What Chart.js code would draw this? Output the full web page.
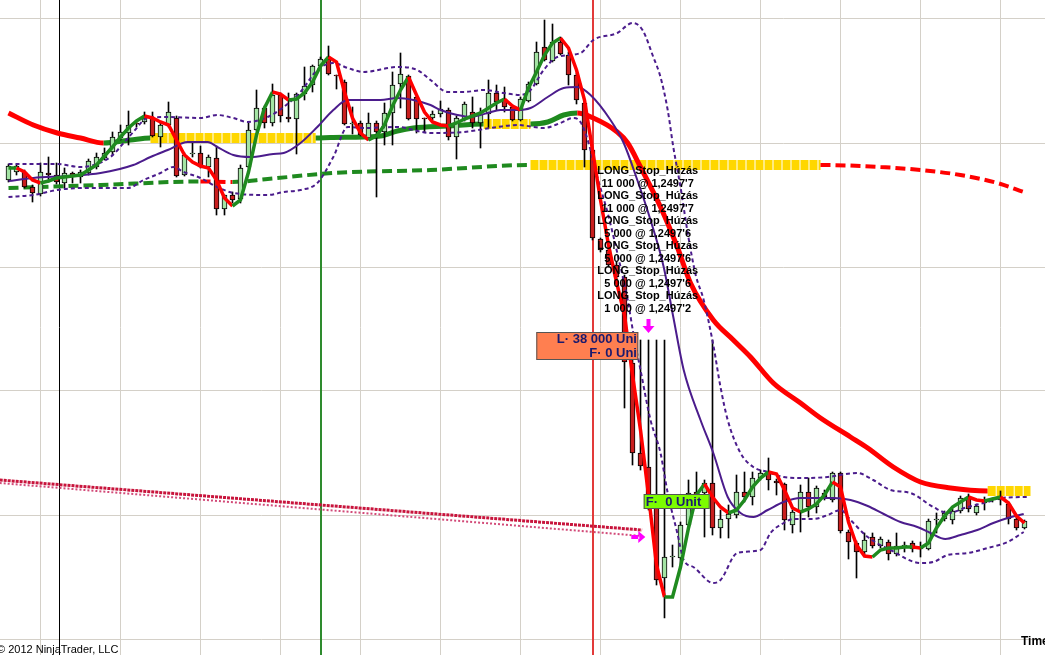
<!DOCTYPE html>
<html>
<head>
<meta charset="utf-8">
<title>NinjaTrader chart</title>
<script src="https://cdn.jsdelivr.net/npm/chart.js@4.4.0/dist/chart.umd.min.js"></script>
<style>
  html, body { margin: 0; padding: 0; background: #fff; overflow: hidden; }
  #wrap { position: relative; width: 1045px; height: 655px; }
</style>
</head>
<body>
<div id="wrap"><canvas id="chart"></canvas></div>
<script>
// price units are arbitrary chart points (higher = higher price)
const opens = [
  520, 528, 528, 513, 506, 527, 525, 517, 527, 523,
  527, 533, 542, 548, 562, 567, 577, 578, 582, 563,
  575, 582, 525, 546, 547, 533, 542, 491, 505, 501,
  533, 570, 592, 577, 605, 583, 581, 606, 615, 634,
  641, 625, 618, 576, 577, 562, 577, 568, 587, 616,
  624, 603, 582, 582, 586, 590, 563, 581, 588, 577,
  586, 607, 601, 593, 580, 599, 616, 653, 639, 658,
  645, 625, 597, 550, 461, 450, 435, 423, 337, 247,
  233, 193, 122, 143, 142, 175, 208, 207, 217, 172,
  181, 185, 208, 203, 222, 228, 219, 216, 175, 188,
  208, 193, 207, 200, 227, 168, 157, 148, 163, 154,
  158, 146, 154, 157, 152, 151, 180, 181, 180, 189,
  203, 187, 197, 200, 200, 196, 181, 172,
];
const highs = [
  536, 535, 530, 515, 537, 543, 537, 532, 528, 530,
  541, 547, 552, 568, 575, 589, 578, 588, 588, 578,
  598, 584, 547, 558, 554, 545, 554, 505, 508, 535,
  577, 610, 594, 616, 607, 607, 607, 633, 635, 643,
  654, 625, 620, 593, 579, 587, 579, 597, 628, 647,
  625, 604, 582, 589, 599, 592, 584, 598, 603, 592,
  620, 615, 613, 595, 603, 618, 658, 680, 676, 663,
  648, 627, 600, 552, 462, 452, 438, 425, 340, 360,
  360, 360, 360, 155, 178, 220, 228, 220, 360, 190,
  195, 225, 228, 228, 230, 242, 221, 217, 190, 215,
  222, 214, 210, 228, 228, 170, 159, 167, 167, 163,
  160, 167, 158, 159, 158, 181, 187, 189, 191, 204,
  206, 196, 203, 202, 209, 198, 183, 180,
];
const lows = [
  518, 525, 512, 498, 504, 518, 516, 512, 517, 517,
  525, 531, 540, 545, 560, 555, 573, 576, 563, 553,
  573, 523, 524, 543, 532, 523, 485, 485, 497, 497,
  532, 569, 572, 574, 578, 578, 546, 600, 608, 633,
  625, 611, 575, 566, 564, 560, 503, 555, 555, 592,
  580, 567, 568, 580, 583, 560, 541, 579, 572, 552,
  572, 590, 588, 579, 579, 598, 615, 639, 638, 645,
  615, 596, 533, 460, 448, 433, 421, 292, 235, 230,
  190, 115, 82, 133, 132, 172, 200, 163, 165, 162,
  162, 182, 198, 195, 220, 210, 205, 170, 167, 168,
  183, 187, 200, 198, 167, 141, 122, 145, 152, 152,
  140, 144, 148, 148, 143, 150, 167, 179, 176, 187,
  188, 185, 190, 198, 195, 176, 170, 171,
];
const closes = [
  534, 534, 513, 507, 528, 525, 518, 527, 524, 528,
  539, 543, 547, 563, 568, 575, 576, 582, 564, 575,
  588, 524, 545, 547, 533, 543, 491, 505, 500, 532,
  570, 592, 577, 605, 584, 581, 606, 614, 634, 641,
  626, 624, 576, 577, 565, 577, 568, 587, 615, 626,
  581, 581, 581, 586, 591, 563, 582, 596, 577, 586,
  607, 598, 593, 580, 601, 616, 648, 640, 658, 646,
  625, 600, 550, 462, 450, 435, 423, 338, 247, 234,
  193, 120, 143, 144, 175, 207, 205, 217, 172, 181,
  186, 208, 203, 222, 227, 220, 217, 180, 188, 208,
  193, 212, 203, 227, 169, 158, 148, 160, 154, 161,
  146, 154, 155, 151, 151, 179, 181, 187, 189, 202,
  191, 194, 199, 201, 203, 181, 172, 179,
];

// fast moving average, one value per bar
const fastMA = [
  532, 532, 528, 520, 517, 519, 522, 523, 524, 525,
  530, 535, 544, 553, 563, 572, 579, 584, 582, 578,
  575, 560, 545, 538, 534, 532, 520, 502, 494, 500,
  528, 565, 592, 608, 606, 600, 601, 607, 618, 634,
  643, 638, 608, 582, 567, 560, 564, 575, 594, 610,
  623, 605, 588, 578, 575, 574, 577, 581, 584, 587,
  592, 597, 601, 594, 590, 612, 628, 645, 657, 662,
  652, 630, 600, 550, 500, 455, 418, 385, 325, 270,
  205, 135, 103, 103, 133, 172, 205, 216, 203, 193,
  187, 190, 200, 213, 222, 228, 226, 210, 192, 188,
  191, 196, 205, 218, 213, 178, 155, 144, 143, 150,
  152, 152, 153, 153, 152, 157, 172, 184, 193, 198,
  203, 200, 199, 201, 203, 197, 184, 177,
];

// slow moving average (bar position, value)
const slowX = [0, 3.1, 6.1, 9, 11.9, 15.25, 17.75, 38.4, 40.25, 44.4, 46.5, 48.6, 50.6, 54.9, 59.4,
  65.25, 67.4, 69.4, 71.1, 73.1, 76.1, 77.4, 79, 81.5, 83.6, 85.25, 88.1, 90.6, 92.75, 95.6, 99,
  101.5, 105.25, 107.4, 110.6, 114, 117.75, 122.4, 127.75];
const slowY = [587, 575, 567, 562, 557, 560, 562, 562, 562.5, 563, 564, 569, 572, 574, 576,
  576, 578, 585, 587, 582, 568, 557, 533, 493, 453, 417, 380, 360, 343, 317, 297,
  282, 263, 252, 233, 218, 212, 209, 209];

// long (displaced) moving average
const longX = [0, 11.5, 24, 28, 32.4, 40.6, 52.75, 65.25, 101.5, 109, 114, 119, 123.6, 126.9];
const longY = [512, 515, 518.5, 518, 521, 527, 530, 535, 535, 533, 530, 525, 517, 508];

// envelope bands
const midX = [0, 3.1, 7.4, 11.5, 15.6, 17.75, 19.9, 22.4, 24.9, 26.1, 28.1, 30.25, 33.1, 34.4, 36.5,
  38.6, 40.6, 42.4, 46.5, 48.6, 50.6, 52.75, 54, 56.1, 57.75, 59.9, 61.5, 63.6, 65.25, 67.4,
  69.4, 71.1, 72.75, 75.25, 76.9, 78.6, 80.25, 81.9, 83.1, 84.4, 86.5, 88.1, 89.9, 91.5, 93.1,
  94.9, 96.9, 99, 103.1, 105.25, 107.4, 109.4, 111.5, 113.6, 115.25, 117.1, 119, 121.1, 123.1, 124.9, 126.9];
const midY = [519, 522, 524, 527, 535, 543, 550, 558, 558, 553, 545, 543, 546, 547, 557,
  573, 590, 600, 600, 602, 600, 595, 590, 585, 583, 587, 590, 590, 592, 603,
  612, 613, 605, 580, 557, 520, 480, 433, 383, 330, 280, 247, 203, 187, 183,
  190, 198, 202, 202, 200, 194, 186, 178, 173, 167, 161, 165, 170, 177, 182, 186];
const upperX = [0, 6.1, 9, 10.25, 12.75, 14.4, 15.6, 17.4, 19.9, 24, 26.1, 28.1, 29.9, 32.4, 34.4,
  36.5, 38.6, 40.6, 42.4, 44.4, 48.6, 51.1, 52.75, 54.9, 56.9, 59.4, 61.9, 64, 65.25, 66.9,
  68.6, 71.5, 73.1, 76.1, 78, 79.25, 80.6, 81.5, 82.4, 83.1, 84, 84.9, 85.9, 86.9, 88.1,
  89, 89.9, 91.5, 93.1, 94.9, 96.9, 99, 102.4, 106.1, 108.1, 110.25, 112.75, 115.6, 117.4, 119.9,
  122.4, 124, 127.4];
const upperY = [536, 536, 533, 534, 543, 557, 568, 582, 583, 582, 585, 582, 578, 583, 593,
  608, 630, 637, 632, 628, 633, 630, 620, 608, 608, 610, 607, 605, 610, 630,
  643, 647, 660, 667, 677, 670, 643, 623, 590, 553, 513, 467, 425, 400, 355,
  313, 280, 247, 233, 228, 223, 222, 223, 227, 220, 210, 207, 193, 187, 193,
  198, 202, 203];
const lowerX = [0, 3.1, 6.1, 9, 14.9, 16.9, 19, 20.6, 21.9, 24, 26.1, 28.1, 32.4, 34.4, 36.5,
  38.6, 40.6, 42.4, 44.4, 48.6, 52.75, 56.9, 61.1, 63.6, 66.9, 69, 70.6, 71.5, 72.4, 73.6,
  74.9, 76.1, 77.4, 78.1, 79, 80.25, 81.5, 82.4, 83.6, 84.4, 85.6, 88.1, 89, 91.1, 94,
  95.25, 96.9, 98.1, 100.6, 102.4, 104, 105.25, 107.4, 110.25, 114, 115.6, 117.4, 119.9, 122.4, 124.9, 126.9];
const lowerY = [503, 505, 510, 512, 512, 520, 527, 533, 528, 522, 513, 507, 505, 508, 510,
  517, 543, 573, 572, 573, 567, 568, 573, 575, 572, 577, 582, 578, 560, 523,
  487, 447, 400, 367, 330, 280, 247, 207, 167, 140, 133, 117, 120, 147, 150,
  167, 177, 181, 181, 185, 190, 180, 163, 150, 137, 138, 145, 147, 152, 158, 168];

// trend lines drawn on the chart
const trendLineX = [-1.1, 79.2];
const trendLineTop = [220, 170];
const trendLineBottom = [217, 164];

// grid and marker positions
const gridBars = [4, 14, 24, 34, 44, 54, 64, 74, 84, 94, 104, 114, 124];
const gridPrices = [681, 557, 433, 309, 185, 61];
const markerBars = [6.25, 39, 73.1];

// order fill texts
const stopTexts = [
  'LONG_Stop_Húzás', "11 000 @ 1,2497'7",
  'LONG_Stop_Húzás', "11 000 @ 1,2497'7",
  'LONG_Stop_Húzás', "5 000 @ 1,2497'6",
  'LONG_Stop_Húzás', "5 000 @ 1,2497'6",
  'LONG_Stop_Húzás', "5 000 @ 1,2497'6",
  'LONG_Stop_Húzás', "1 000 @ 1,2497'2",
];
const stopAnchor = [79.9, 530];
const positionTexts = ['L· 38 000 Unit', 'F· 0 Unit'];
const positionAnchor = [78.6, 354];
const flatTexts = ['F·  0 Unit'];
const flatAnchor = [79.4, 199];
const entryArrow = [80, 367];
const trendArrow = [79.6, 163];

const RISE = '#1f8a1f';
const FALL = '#ff0000';
const FLAT = '#ffd700';
const BAND = '#4b1c8c';

const pts = (xs, ys) => xs.map((x, k) => ({ x, y: ys[k] }));

function slopeSegment(width, dash) {
  const dir = (c) => Math.sign(c.p1.parsed.y - c.p0.parsed.y);
  return {
    borderColor: (c) => (dir(c) > 0 ? RISE : dir(c) < 0 ? FALL : FLAT),
    borderWidth: (c) => (dir(c) === 0 ? 10 : width),
    borderDash: (c) => (dir(c) === 0 ? [8, 1] : dash),
  };
}

function drawArrow(ctx, x, y, dir) {
  ctx.fillStyle = '#ff00ff';
  ctx.beginPath();
  if (dir === 'down') {
    ctx.rect(x - 2, y - 14, 4, 8);
    ctx.moveTo(x - 6, y - 7);
    ctx.lineTo(x + 6, y - 7);
    ctx.lineTo(x, y);
  } else {
    ctx.rect(x - 14, y - 2, 8, 4);
    ctx.moveTo(x - 7, y - 6);
    ctx.lineTo(x - 7, y + 6);
    ctx.lineTo(x, y);
  }
  ctx.closePath();
  ctx.fill();
}

function drawLabel(ctx, left, top, w, h, fill, lines, align, textX) {
  ctx.save();
  ctx.fillStyle = fill;
  ctx.fillRect(left, top, w, h);
  ctx.strokeStyle = '#555';
  ctx.lineWidth = 1;
  ctx.strokeRect(left + 0.5, top + 0.5, w - 1, h - 1);
  ctx.beginPath();
  ctx.rect(left + 1, top + 1, w - 2, h - 2);
  ctx.clip();
  ctx.fillStyle = '#1a1a6e';
  ctx.font = 'bold 13px "Liberation Sans", Arial, sans-serif';
  ctx.textAlign = align;
  ctx.textBaseline = 'middle';
  const step = h / lines.length;
  lines.forEach((t, k) => ctx.fillText(t, textX, top + step * (k + 0.5) + 0.5));
  ctx.restore();
}

const overlay = {
  id: 'overlay',
  beforeDatasetsDraw(chart) {
    const { ctx, chartArea, scales: { x } } = chart;
    const styles = [['#000000', 1], ['#2e8b2e', 2], ['#e23a3a', 2]];
    ctx.save();
    markerBars.forEach((bar, k) => {
      const px = Math.round(x.getPixelForValue(bar)) + (styles[k][1] % 2 ? 0.5 : 0);
      ctx.strokeStyle = styles[k][0];
      ctx.lineWidth = styles[k][1];
      ctx.beginPath();
      ctx.moveTo(px, chartArea.top);
      ctx.lineTo(px, chartArea.bottom);
      ctx.stroke();
    });
    ctx.restore();
  },
  afterDatasetsDraw(chart) {
    const { ctx, chartArea, scales: { x, y } } = chart;
    ctx.save();

    // stop order texts
    ctx.fillStyle = '#000';
    ctx.font = 'bold 11px "Liberation Sans", Arial, sans-serif';
    ctx.textAlign = 'center';
    ctx.textBaseline = 'middle';
    const sx = x.getPixelForValue(stopAnchor[0]);
    const sy = y.getPixelForValue(stopAnchor[1]);
    stopTexts.forEach((t, k) => ctx.fillText(t, sx, sy + 1 + k * 12.5));

    // position labels
    const pr = x.getPixelForValue(positionAnchor[0]);
    const pc = y.getPixelForValue(positionAnchor[1]);
    drawLabel(ctx, pr - 101, pc - 14, 102, 28, '#ff7f50', positionTexts, 'right', pr + 4);
    const fl = x.getPixelForValue(flatAnchor[0]);
    const fc = y.getPixelForValue(flatAnchor[1]);
    drawLabel(ctx, fl, fc - 7, 66, 15, '#7cfc00', flatTexts, 'left', fl + 2);

    // execution arrows
    drawArrow(ctx, x.getPixelForValue(entryArrow[0]), y.getPixelForValue(entryArrow[1]), 'down');
    drawArrow(ctx, x.getPixelForValue(trendArrow[0]), y.getPixelForValue(trendArrow[1]), 'right');

    // footer texts
    ctx.fillStyle = '#000';
    ctx.textAlign = 'left';
    ctx.font = '11px "Liberation Sans", Arial, sans-serif';
    ctx.fillText('© 2012 NinjaTrader, LLC', chartArea.left - 3, chartArea.bottom - 5);
    ctx.font = 'bold 12px "Liberation Sans", Arial, sans-serif';
    ctx.fillText('Time', chartArea.right - 24, chartArea.bottom - 13);
    ctx.restore();
  },
};

const wickData = opens.map((o, i) => ({ x: i, y: [lows[i], highs[i]] }));
const bodyData = opens.map((o, i) => ({ x: i, y: [o, closes[i]] }));

const lineBase = { type: 'line', pointRadius: 0, pointHoverRadius: 0, fill: false };

const chart = new Chart(document.getElementById('chart'), {
  type: 'line',
  data: {
    datasets: [
      { ...lineBase, label: 'Trend top', data: pts(trendLineX, trendLineTop), borderColor: '#c8143c', borderWidth: 3, borderDash: [3, 1], order: 20 },
      { ...lineBase, label: 'Trend bottom', data: pts(trendLineX, trendLineBottom), borderColor: '#d24a78', borderWidth: 2, borderDash: [2, 2], order: 20 },
      { ...lineBase, label: 'Long MA', data: pts(longX, longY), borderWidth: 4, cubicInterpolationMode: 'monotone', segment: slopeSegment(4, [10, 5]), order: 18 },
      { ...lineBase, label: 'Slow MA', data: pts(slowX, slowY), borderWidth: 5, cubicInterpolationMode: 'monotone', segment: slopeSegment(5, []), order: 17 },
      {
        type: 'bar', label: 'Wicks', data: wickData, backgroundColor: '#000', barThickness: 1,
        grouped: false, order: 15,
      },
      {
        type: 'bar', label: 'Bodies', data: bodyData, barThickness: 5, grouped: false,
        borderWidth: 1, borderColor: '#000', borderSkipped: false, order: 14,
        backgroundColor: (c) => (closes[c.dataIndex] >= opens[c.dataIndex] ? '#a4e4a4' : '#c81e1e'),
      },
      { ...lineBase, label: 'Lower', data: pts(lowerX, lowerY), borderColor: BAND, borderWidth: 2, borderDash: [4, 3], cubicInterpolationMode: 'monotone', order: 10 },
      { ...lineBase, label: 'Upper', data: pts(upperX, upperY), borderColor: BAND, borderWidth: 2, borderDash: [4, 3], cubicInterpolationMode: 'monotone', order: 10 },
      { ...lineBase, label: 'Middle', data: pts(midX, midY), borderColor: BAND, borderWidth: 2, cubicInterpolationMode: 'monotone', order: 10 },
      {
        ...lineBase, label: 'Fast MA', data: fastMA.map((v, i) => ({ x: i, y: v })), borderWidth: 3.5,
        tension: 0, segment: { borderColor: (c) => (c.p1.parsed.y >= c.p0.parsed.y ? RISE : FALL) }, order: 5,
      },
    ],
  },
  options: {
    responsive: true,
    maintainAspectRatio: false,
    animation: false,
    layout: { padding: 0 },
    plugins: { legend: { display: false }, tooltip: { enabled: false } },
    scales: {
      x: {
        type: 'linear', min: -1.0625, max: 129.5625, offset: false,
        ticks: { display: false },
        grid: { color: '#d4d0c8', drawTicks: false, offset: false },
        border: { display: false },
        afterBuildTicks: (s) => { s.ticks = gridBars.map((v) => ({ value: v })); },
      },
      y: {
        type: 'linear', position: 'right', min: 45, max: 700,
        ticks: { display: false },
        grid: { color: '#d4d0c8', drawTicks: false },
        border: { display: false },
        afterBuildTicks: (s) => { s.ticks = gridPrices.map((v) => ({ value: v })); },
      },
    },
  },
  plugins: [overlay],
});
</script>
</body>
</html>
